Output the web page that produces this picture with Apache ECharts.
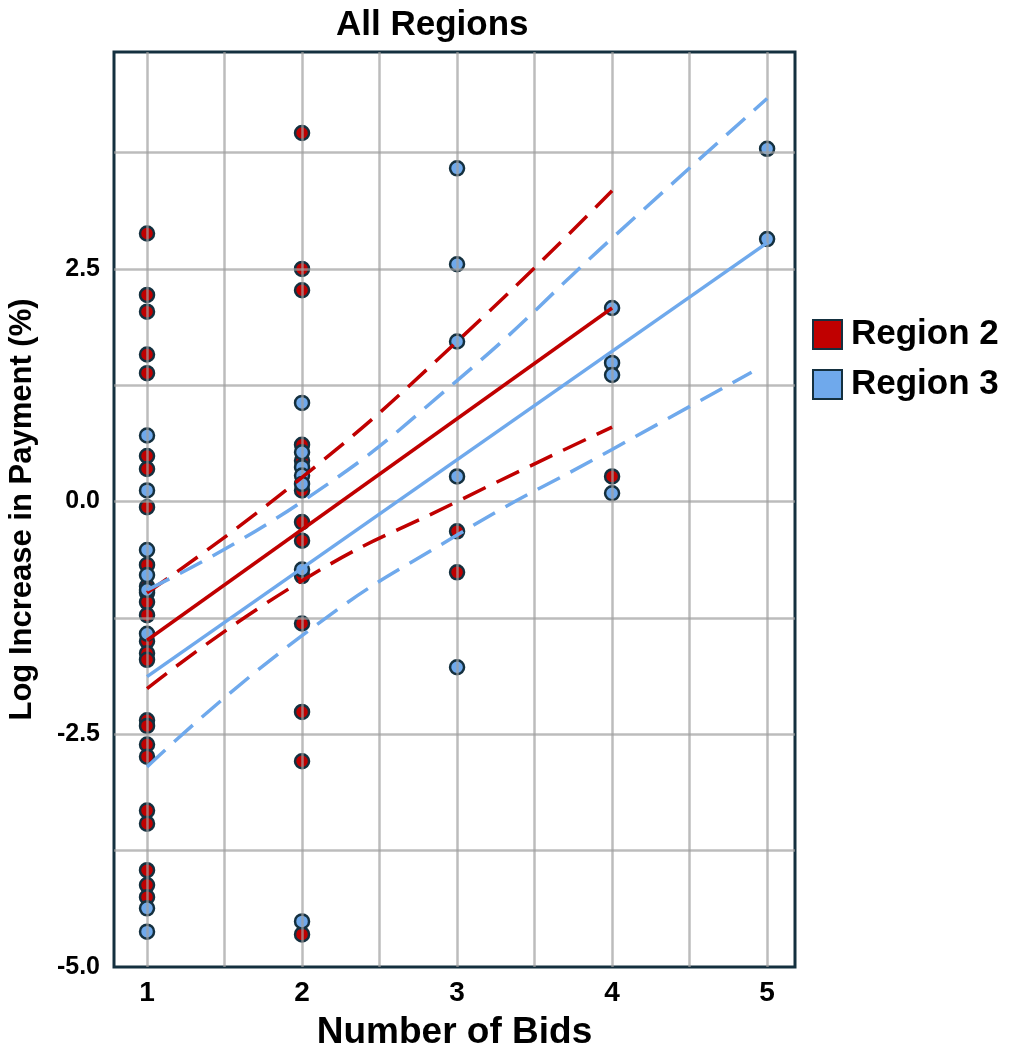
<!DOCTYPE html>
<html>
<head>
<meta charset="utf-8">
<script src="https://cdn.jsdelivr.net/npm/echarts@6/dist/echarts.min.js"></script>
<style>
  html, body { margin: 0; padding: 0; background: #fff; }
  #chart { width: 1012px; height: 1051px; }
</style>
</head>
<body>
<div id="chart"></div>
<script>
// scatter points, [bids, log increase]
const region2Points = [
  [1, 2.88], [1, 2.22], [1, 2.04], [1, 1.58], [1, 1.38], [1, 0.49], [1, 0.35], [1, -0.06],
  [1, -0.68], [1, -0.91], [1, -0.98], [1, -1.08], [1, -1.22], [1, -1.50], [1, -1.63], [1, -1.70],
  [1, -2.35], [1, -2.41], [1, -2.61], [1, -2.74], [1, -3.32], [1, -3.46], [1, -3.96], [1, -4.12], [1, -4.25],
  [2, 3.96], [2, 2.50], [2, 2.27], [2, 0.61], [2, 0.44], [2, 0.12], [2, -0.22], [2, -0.42],
  [2, -0.80], [2, -1.31], [2, -2.26], [2, -2.79], [2, -4.65],
  [3, -0.32], [3, -0.76],
  [4, 0.27]
]
const region3Points = [
  [1, 0.71], [1, 0.12], [1, -0.52], [1, -0.79], [1, -0.95], [1, -1.42], [1, -4.37], [1, -4.62],
  [2, 1.06], [2, 0.53], [2, 0.37], [2, 0.28], [2, 0.19], [2, -0.73], [2, -4.51],
  [3, 3.58], [3, 2.55], [3, 1.72], [3, 0.27], [3, -1.78],
  [4, 2.08], [4, 1.49], [4, 1.36], [4, 0.09],
  [5, 3.79], [5, 2.82]
]

// fit lines and their bands
const region2Fit = [[1, -1.49], [4, 2.08]]
const region2Upper = [[1, -0.98], [2, 0.26], [3, 1.72], [4, 3.34]]
const region2Lower = [[1, -2.01], [2, -0.85], [3, 0.0], [4, 0.80]]
const region3Fit = [[1, -1.88], [5, 2.78]]
const region3Upper = [[1, -0.95], [2, 0.0], [3, 1.30], [4, 2.83], [5, 4.33]]
const region3Lower = [[1, -2.85], [2, -1.44], [3, -0.36], [4, 0.56], [4.9, 1.39]]

// gridlines / ticks
const xTicks = [1, 2, 3, 4, 5]
const xGridLines = [1, 1.5, 2, 2.5, 3, 3.5, 4, 4.5, 5]
const yGridLines = [-3.75, -2.5, -1.25, 0, 1.25, 2.5, 3.75]

const RED = '#c00000'
const BLUE = '#6fa9ec'
const EDGE = '#14303f'
const GRID = 'rgba(160,160,160,0.7)'
const FONT = 'Liberation Sans'

const chart = echarts.init(document.getElementById('chart'))

function bandLine(name, data, color, dashed) {
  return {
    name: name,
    type: 'line',
    data: data,
    smooth: dashed,
    symbol: 'none',
    silent: true,
    z: 5,
    lineStyle: { color: color, width: 3.5, type: dashed ? [25, 12] : 'solid' }
  }
}

chart.setOption({
  animation: false,
  title: {
    text: 'All Regions',
    left: 331,
    top: 3,
    textStyle: { fontFamily: FONT, fontWeight: 'bold', fontSize: 35, color: '#000' }
  },
  legend: {
    data: ['Region 2', 'Region 3'],
    orient: 'vertical',
    left: 807,
    top: 312,
    itemWidth: 29,
    itemHeight: 29,
    itemGap: 15,
    icon: 'rect',
    textStyle: { fontFamily: FONT, fontWeight: 'bold', fontSize: 35, color: '#000', padding: [0, 0, 0, 4] }
  },
  grid: {
    left: 114,
    top: 52,
    right: 217,
    bottom: 84,
    show: true,
    borderColor: EDGE,
    borderWidth: 3,
    outerBoundsMode: 'none',
    containLabel: false
  },
  xAxis: {
    type: 'value',
    min: 0.787,
    max: 5.18,
    name: 'Number of Bids',
    nameLocation: 'middle',
    nameGap: 47,
    nameTextStyle: { fontFamily: FONT, fontWeight: 'bold', fontSize: 37, color: '#000' },
    axisLine: { show: false },
    axisTick: { show: false },
    splitLine: { show: false },
    axisLabel: {
      customValues: xTicks,
      margin: 12,
      fontFamily: FONT,
      fontWeight: 'bold',
      fontSize: 28,
      color: '#000'
    }
  },
  yAxis: {
    type: 'value',
    min: -5,
    max: 4.83,
    interval: 1.25,
    name: 'Log Increase in Payment (%)',
    nameLocation: 'middle',
    nameGap: 76,
    nameTextStyle: { fontFamily: FONT, fontWeight: 'bold', fontSize: 31, color: '#000' },
    axisLine: { show: false },
    axisTick: { show: false },
    splitLine: { show: false },
    axisLabel: {
      margin: 14,
      fontFamily: FONT,
      fontWeight: 'bold',
      fontSize: 25,
      color: '#000',
      formatter: function (v) {
        const k = v / 2.5
        return Math.abs(k - Math.round(k)) < 1e-6 ? v.toFixed(1) : ''
      }
    }
  },
  series: [
    {
      name: 'grid',
      type: 'line',
      data: [],
      silent: true,
      z: 1,
      markLine: {
        silent: true,
        symbol: 'none',
        label: { show: false },
        lineStyle: { color: GRID, width: 2.5, type: 'solid' },
        data: xGridLines.map(function (v) { return { xAxis: v } })
          .concat(yGridLines.map(function (v) { return { yAxis: v } }))
      }
    },
    {
      name: 'Region 2',
      type: 'scatter',
      data: region2Points,
      symbolSize: 14,
      z: 3,
      itemStyle: { color: RED, borderColor: EDGE, borderWidth: 2.5, opacity: 1 }
    },
    {
      name: 'Region 3',
      type: 'scatter',
      data: region3Points,
      symbolSize: 14,
      z: 3,
      itemStyle: { color: BLUE, borderColor: EDGE, borderWidth: 2.5, opacity: 1 }
    },
    bandLine('Region 2 upper', region2Upper, RED, true),
    bandLine('Region 2 lower', region2Lower, RED, true),
    bandLine('Region 2 fit', region2Fit, RED, false),
    bandLine('Region 3 upper', region3Upper, BLUE, true),
    bandLine('Region 3 lower', region3Lower, BLUE, true),
    bandLine('Region 3 fit', region3Fit, BLUE, false)
  ]
})
</script>
</body>
</html>
